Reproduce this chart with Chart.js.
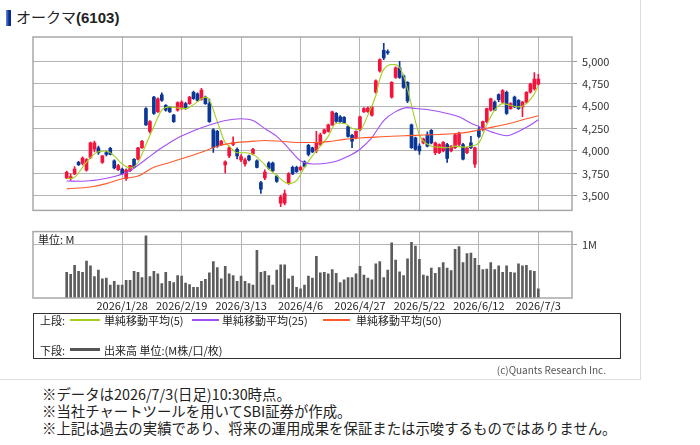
<!DOCTYPE html>
<html lang="ja">
<head>
<meta charset="UTF-8">
<title>オークマ(6103)</title>
<script src="https://cdn.jsdelivr.net/npm/chart.js"></script>
<style>
  body { margin: 0; background: #fff; font-family: "Noto Sans CJK JP", "Noto Sans", sans-serif; color: #222; }
  #wrap { position: relative; width: 700px; height: 445px; overflow: hidden; }
  .abs { position: absolute; white-space: nowrap; }
  #frame { left: 0; top: 0; width: 641px; height: 380px; border-right: 1px solid #ddd; border-bottom: 1px solid #ddd; box-sizing: border-box; }
  #title { left: 6px; top: 7px; font-size: 15px; line-height: 20px; }
  #title i { display: inline-block; width: 5px; height: 16px; vertical-align: -3px; margin-right: 5px; background: linear-gradient(90deg, #6d8be0, #0b2c8f 60%); }
  #title b { font-family: "Liberation Sans", Arial, sans-serif; }
  #legend { left: 33px; top: 313px; width: 588px; height: 46px; border: 1.5px solid #333; box-sizing: border-box; }
  .lg { font-size: 11px; line-height: 14px; color: #222; }
  .ln { height: 2px; }
  #copy { right: 94px; top: 363px; font-size: 10px; line-height: 14px; color: #555; }
  .note { left: 42px; font-size: 14.4px; line-height: 17px; color: #222; }
</style>
</head>
<body>
<div id="wrap">
  <div id="frame" class="abs"></div>
  <div id="title" class="abs"><i></i>オークマ<b>(6103)</b></div>
  <canvas id="price" class="abs" style="left:0;top:0" width="640" height="222"></canvas>
  <canvas id="vol" class="abs" style="left:0;top:220px" width="640" height="92"></canvas>

  <div id="legend" class="abs"></div>
  <span class="abs lg" style="left:40px;top:313px">上段:</span>
  <span class="abs ln" style="left:70px;top:319px;width:30px;background:#a5cf1f"></span>
  <span class="abs lg" style="left:104px;top:313px">単純移動平均(5)</span>
  <span class="abs ln" style="left:192px;top:319px;width:27px;background:#a44ef5"></span>
  <span class="abs lg" style="left:222px;top:313px">単純移動平均(25)</span>
  <span class="abs ln" style="left:323px;top:319px;width:27px;background:#ff5a2a"></span>
  <span class="abs lg" style="left:356px;top:313px">単純移動平均(50)</span>
  <span class="abs lg" style="left:40px;top:343px">下段:</span>
  <span class="abs" style="left:70px;top:348px;width:30px;height:3px;background:#555"></span>
  <span class="abs lg" style="left:104px;top:343px">出来高 単位:(M株/口/枚)</span>
  <span id="copy" class="abs">(c)Quants Research Inc.</span>

  <div class="abs note" style="top:385px">※データは2026/7/3(日足)10:30時点。</div>
  <div class="abs note" style="top:402px">※当社チャートツールを用いてSBI証券が作成。</div>
  <div class="abs note" style="top:419px">※上記は過去の実績であり、将来の運用成果を保証または示唆するものではありません。</div>
</div>

<script>
// daily OHLC, oldest first (120 sessions up to 2026/7/3)
const open = [3700, 3690, 3745, 3872, 3861, 3785, 3927, 4020, 4036, 3872,
  3981, 4029, 3890, 3790, 3799, 3690, 3781, 3908, 3908, 4036,
  4474, 4219, 4602, 4438, 4628, 4510, 4493, 4401, 4456, 4474,
  4530, 4529, 4657, 4638, 4577, 4602, 4529, 4237, 4219, 4070,
  3843, 3945, 4073, 4018, 3901, 3855, 3945, 3967, 3890, 3646,
  3700, 3865, 3865, 3719, 3416, 3416, 3635, 3817, 3817, 3790,
  3879, 4062, 4036, 4000, 4073, 4200, 4219, 4292, 4420, 4383,
  4375, 4273, 4175, 4146, 4237, 4438, 4440, 4401, 4657, 4894,
  5124, 5110, 4602, 4821, 4930, 4839, 4766, 4292, 4146, 4054,
  4091, 4182, 4230, 3982, 3982, 4000, 4073, 4000, 4036, 4073,
  4073, 3982, 4091, 3854, 4237, 4237, 4328, 4456, 4547, 4631,
  4547, 4657, 4474, 4602, 4565, 4493, 4547, 4657, 4693, 4748];
const high = [3775, 3744, 3825, 3885, 3935, 3915, 4100, 4110, 4055, 3950,
  4000, 4040, 3900, 3850, 3810, 3800, 3840, 3915, 4040, 4120,
  4485, 4340, 4610, 4595, 4650, 4520, 4500, 4410, 4550, 4560,
  4545, 4610, 4670, 4650, 4700, 4615, 4580, 4250, 4230, 4120,
  3890, 4055, 4157, 4036, 3960, 3920, 3955, 4030, 3900, 3660,
  3790, 3880, 3875, 3730, 3507, 3562, 3760, 3830, 3830, 3830,
  3890, 4075, 4045, 4219, 4200, 4245, 4300, 4445, 4430, 4395,
  4385, 4285, 4185, 4225, 4390, 4485, 4490, 4500, 4795, 5030,
  5204, 5130, 4775, 4940, 5003, 4850, 4775, 4300, 4155, 4080,
  4145, 4215, 4240, 4100, 4080, 4105, 4085, 4060, 4190, 4210,
  4085, 4045, 4164, 4045, 4270, 4335, 4480, 4590, 4560, 4640,
  4685, 4670, 4540, 4615, 4575, 4555, 4665, 4760, 4876, 4858];
const low = [3690, 3671, 3735, 3835, 3845, 3775, 3915, 3990, 3963, 3860,
  3945, 3955, 3800, 3780, 3735, 3671, 3770, 3810, 3900, 4030,
  4285, 4200, 4410, 4430, 4555, 4445, 4430, 4320, 4445, 4465,
  4465, 4520, 4575, 4555, 4565, 4520, 4320, 3985, 4040, 4060,
  3755, 3925, 4060, 3910, 3880, 3830, 3890, 3955, 3810, 3525,
  3680, 3795, 3770, 3650, 3379, 3398, 3625, 3735, 3760, 3780,
  3820, 3945, 3980, 3980, 4060, 4190, 4210, 4285, 4320, 4320,
  4305, 4155, 4036, 4135, 4225, 4430, 4430, 4390, 4645, 4880,
  5022, 5080, 4590, 4810, 4810, 4700, 4540, 4030, 4005, 3963,
  4080, 4045, 4080, 3960, 3970, 3990, 3872, 3990, 4025, 4060,
  3900, 3970, 4025, 3817, 4150, 4225, 4315, 4445, 4450, 4550,
  4535, 4410, 4465, 4485, 4465, 4383, 4535, 4645, 4680, 4735];
const close = [3762, 3715, 3799, 3847, 3920, 3905, 4091, 4091, 3982, 3945,
  3963, 3963, 3810, 3836, 3744, 3788, 3836, 3817, 4036, 4109,
  4292, 4328, 4420, 4584, 4565, 4456, 4438, 4328, 4540, 4547,
  4474, 4602, 4584, 4565, 4682, 4529, 4328, 4036, 4055, 4110,
  3879, 4036, 4098, 3945, 3938, 3900, 3901, 4018, 3817, 3573,
  3765, 3806, 3781, 3660, 3489, 3525, 3744, 3744, 3770, 3817,
  3828, 3963, 3989, 4091, 4182, 4237, 4292, 4438, 4330, 4328,
  4317, 4164, 4109, 4219, 4383, 4474, 4480, 4492, 4784, 5022,
  5040, 5095, 4766, 4930, 4821, 4711, 4560, 4036, 4018, 4000,
  4135, 4054, 4091, 4091, 4073, 4098, 3916, 4054, 4182, 4200,
  3908, 4036, 4036, 4036, 4164, 4328, 4474, 4584, 4456, 4573,
  4675, 4420, 4529, 4493, 4474, 4547, 4657, 4748, 4803, 4803];
// volume, million shares
const volume = [0.48, 0.44, 0.61, 0.50, 0.48, 0.69, 0.60, 0.40, 0.52, 0.36,
  0.37, 0.24, 0.31, 0.24, 0.24, 0.33, 0.33, 0.50, 0.48, 0.38,
  1.16, 0.40, 0.50, 0.45, 0.27, 0.48, 0.31, 0.29, 0.42, 0.41,
  0.28, 0.25, 0.20, 0.20, 0.31, 0.35, 0.47, 0.68, 0.57, 0.36,
  0.59, 0.45, 0.42, 0.31, 0.41, 0.31, 0.27, 0.24, 0.89, 0.48,
  0.50, 0.42, 0.24, 0.52, 0.62, 0.62, 0.36, 0.41, 0.20, 0.17,
  0.24, 0.41, 0.37, 0.78, 0.47, 0.48, 0.45, 0.53, 0.46, 0.29,
  0.34, 0.38, 0.38, 0.45, 0.59, 0.43, 0.37, 0.34, 0.64, 0.68,
  0.38, 0.52, 1.03, 0.71, 0.49, 0.42, 0.73, 1.04, 0.97, 0.72,
  0.43, 0.41, 0.56, 0.46, 0.57, 0.66, 0.56, 0.51, 0.91, 0.96,
  0.66, 0.83, 0.84, 0.74, 0.61, 0.53, 0.54, 0.66, 0.53, 0.60,
  0.48, 0.60, 0.48, 0.47, 0.64, 0.60, 0.61, 0.51, 0.50, 0.17];

// moving averages: [session index, value]
const ma5 = [[0, 3689], [2, 3707], [4, 3817], [6, 3927], [8, 3992], [10, 4000], [12, 3945],
  [14, 3854], [16, 3810], [18, 3872], [20, 4073], [22, 4273], [24, 4456], [26, 4493],
  [28, 4481], [30, 4474], [32, 4518], [34, 4584], [35, 4602], [36, 4570], [38, 4328],
  [40, 4091], [41, 4054], [43, 3981], [45, 3981], [47, 3963], [49, 3890], [51, 3799],
  [53, 3726], [55, 3653], [56, 3635], [58, 3671], [60, 3817], [62, 3945], [64, 4054],
  [66, 4164], [68, 4310], [70, 4310], [72, 4255], [74, 4237], [76, 4401], [78, 4620],
  [79, 4803], [80, 4912], [82, 4967], [83, 4965], [84, 4930], [85, 4839], [86, 4693],
  [87, 4511], [88, 4328], [89, 4182], [90, 4109], [92, 4054], [94, 4043], [96, 4036],
  [98, 4054], [100, 4043], [102, 4054], [104, 4091], [105, 4182], [106, 4292], [108, 4456],
  [110, 4529], [112, 4511], [114, 4493], [116, 4529], [118, 4638], [119, 4730]];
const ma25 = [[0, 3664], [4, 3662], [8, 3678], [12, 3715], [16, 3780], [20, 3908], [24, 4036],
  [28, 4146], [32, 4225], [36, 4290], [40, 4340], [44, 4360], [47, 4340], [50, 4250],
  [53, 4164], [56, 4030], [59, 3890], [62, 3855], [65, 3860], [68, 3885], [71, 3940],
  [74, 4020], [77, 4150], [80, 4340], [83, 4440], [86, 4485], [88, 4475], [92, 4456],
  [96, 4420], [99, 4383], [102, 4310], [104, 4273], [108, 4200], [111, 4171], [114, 4219],
  [117, 4290], [119, 4350]];
const ma50 = [[0, 3577], [6, 3598], [10, 3635], [14, 3690], [18, 3720], [22, 3817], [26, 3872],
  [30, 3927], [34, 3985], [38, 4054], [42, 4091], [46, 4105], [50, 4118], [54, 4109],
  [58, 4095], [62, 4095], [66, 4105], [70, 4130], [74, 4145], [78, 4155], [82, 4165],
  [86, 4172], [90, 4178], [94, 4185], [98, 4195], [101, 4208], [104, 4235], [106, 4255],
  [110, 4290], [112, 4310], [116, 4360], [119, 4394]];

// axes
const tickIdx = [14, 29, 44, 59, 74, 89, 104, 119];
const tickLabels = ['2026/1/28', '2026/2/19', '2026/3/13', '2026/4/6', '2026/4/27', '2026/5/22', '2026/6/12', '2026/7/3'];
const priceTicks = [3500, 3750, 4000, 4250, 4500, 4750, 5000];
const volTicks = [1];

const RED = '#f2143c', BLUE = '#0c3796', GRID = '#b4b4b4';
const axisFont = { family: '"Noto Sans CJK JP", "Noto Sans", sans-serif', size: 11 };
const candleColors = open.map((o, i) => close[i] >= o ? RED : BLUE);

const boxPlugin = {
    id: 'box',
    afterDraw(chart) {
        const a = chart.chartArea, ctx = chart.ctx;
        ctx.save();
        ctx.strokeStyle = '#a8a8a8';
        ctx.lineWidth = 1.5;
        ctx.strokeRect(a.left, a.top, a.right - a.left, a.bottom - a.top);
        if (chart.canvas.id === 'vol') {
            ctx.fillStyle = '#222';
            ctx.font = '11px "Noto Sans CJK JP", sans-serif';
            ctx.textBaseline = 'middle';
            ctx.fillText('単位: M', a.left + 5, a.top + 8);
        }
        ctx.restore();
    }
};

function xScale(showLabels) {
    return {
        type: 'linear', min: -8.5, max: 127.5, offset: false,
        afterBuildTicks: s => { s.ticks = tickIdx.map(v => ({ value: v })); },
        afterFit: s => { s.height = showLabels ? 14 : 0; },
        grid: { color: GRID, drawTicks: false, offset: false },
        border: { display: false },
        ticks: {
            display: showLabels, autoSkip: false, maxRotation: 0, padding: 1,
            color: '#222', font: axisFont,
            callback: v => tickLabels[tickIdx.indexOf(v)]
        }
    };
}

function line(points, color) {
    return {
        type: 'line', data: points.map(p => ({ x: p[0], y: p[1] })),
        borderColor: color, borderWidth: 1.1, pointRadius: 0,
        cubicInterpolationMode: 'monotone', order: 0
    };
}

new Chart(document.getElementById('price'), {
    type: 'bar',
    data: {
        datasets: [
            line(ma50, '#ff5a2a'),
            line(ma25, '#a44ef5'),
            line(ma5, '#a5cf1f'),
            {
                data: open.map((o, i) => ({ x: i, y: [o, close[i]] })),
                backgroundColor: candleColors, barThickness: 3, grouped: false, order: 1
            },
            {
                data: open.map((o, i) => ({ x: i, y: [low[i], high[i]] })),
                backgroundColor: candleColors, barThickness: 1, grouped: false, order: 2
            }
        ]
    },
    options: {
        responsive: false, animation: false,
        layout: { padding: { left: 33, top: 37, right: 0, bottom: 8 } },
        plugins: { legend: { display: false }, tooltip: { enabled: false } },
        scales: {
            x: xScale(false),
            y: {
                position: 'right', min: 3336, max: 5274,
                afterBuildTicks: s => { s.ticks = priceTicks.map(v => ({ value: v })); },
                afterFit: s => { s.width = 68; },
                grid: { color: GRID, drawTicks: true, tickLength: 5, tickColor: '#999' },
                border: { display: false },
                ticks: { padding: 5, color: '#333', font: axisFont, callback: v => v.toLocaleString('en-US') }
            }
        }
    },
    plugins: [boxPlugin]
});

new Chart(document.getElementById('vol'), {
    type: 'bar',
    data: {
        datasets: [{
            data: volume.map((v, i) => ({ x: i, y: v })),
            backgroundColor: '#5c5c5c', barThickness: 2
        }]
    },
    options: {
        responsive: false, animation: false,
        layout: { padding: { left: 33, top: 5, right: 0, bottom: 0 } },
        plugins: { legend: { display: false }, tooltip: { enabled: false } },
        scales: {
            x: xScale(true),
            y: {
                position: 'right', min: 0, max: 1.24,
                afterBuildTicks: s => { s.ticks = volTicks.map(v => ({ value: v })); },
                afterFit: s => { s.width = 68; },
                grid: { color: GRID, drawTicks: true, tickLength: 5, tickColor: '#999' },
                border: { display: false },
                ticks: { padding: 5, color: '#333', font: axisFont, callback: v => v + 'M' }
            }
        }
    },
    plugins: [boxPlugin]
});
</script>
</body>
</html>
